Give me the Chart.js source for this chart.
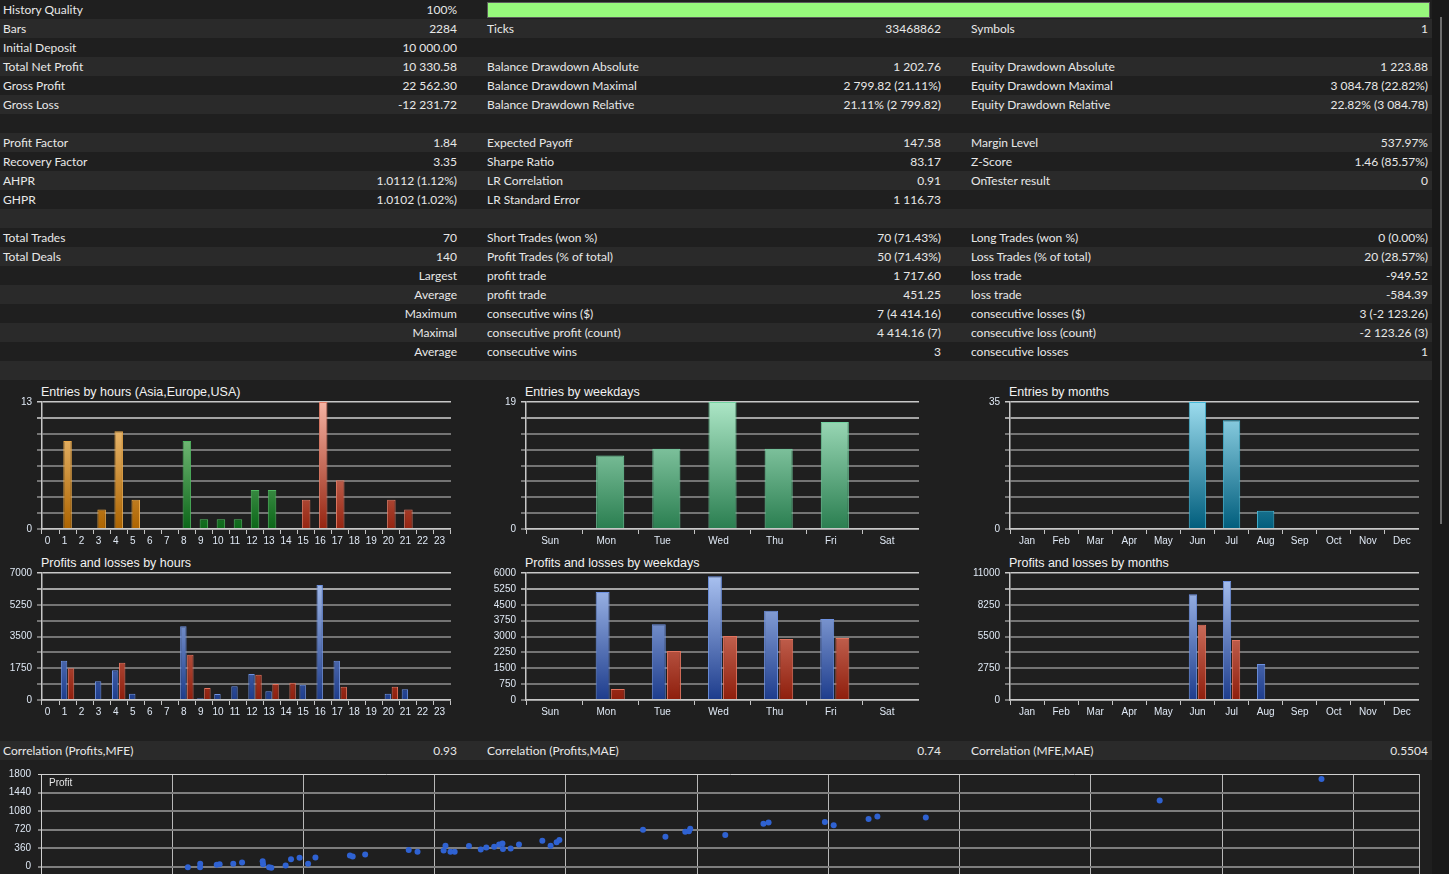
<!DOCTYPE html>
<html><head><meta charset="utf-8">
<script src="https://cdn.jsdelivr.net/npm/chart.js@4.4.1/dist/chart.umd.min.js"></script>
<style>
html,body{margin:0;padding:0;background:#1f1f1f;width:1449px;height:874px;overflow:hidden;}
#page{position:relative;width:1449px;height:874px;font-family:Lato,"Open Sans",sans-serif;}
.strip{position:absolute;left:1432px;top:0;width:17px;height:874px;background:#191919;}
.scroll{position:absolute;left:1440px;top:17px;width:2px;height:507px;background:#6c6c6c;}
.row{position:absolute;left:0;width:1432px;height:19px;color:#e8e8e8;font-size:12px;line-height:20px;}
.odd{background:#2a2a2a}.even{background:#1f1f1f}
.c{position:absolute;top:0;white-space:nowrap}
.l1{left:3px}.v1{left:257px;width:200px;text-align:right}
.l2{left:487px}.v2{left:741px;width:200px;text-align:right}
.l3{left:971px}.v3{left:1128px;width:300px;text-align:right}
.hq{position:absolute;left:487px;top:2px;width:941px;height:14px;background:#97f97c;border:1px solid #5c5c5c;}
.title{position:absolute;color:#f2f2f2;font-family:"Liberation Sans",Arial,sans-serif;font-size:12.5px;line-height:15px;white-space:nowrap}
.box{position:absolute}
.plabel{position:absolute;left:49px;top:777px;color:#e6e6e6;font-family:"Liberation Sans",Arial,sans-serif;font-size:10px;}
</style></head>
<body><div id="page">
<div class="strip"></div><div class="scroll"></div>
<div id="table"></div>
<div class="row odd" style="top:741px"><span class="c l1">Correlation (Profits,MFE)</span><span class="c v1">0.93</span><span class="c l2">Correlation (Profits,MAE)</span><span class="c v2">0.74</span><span class="c l3">Correlation (MFE,MAE)</span><span class="c v3">0.5504</span></div>

<div class="title" style="left:41px;top:385px">Entries by hours (Asia,Europe,USA)</div>
<div class="title" style="left:525px;top:385px">Entries by weekdays</div>
<div class="title" style="left:1009px;top:385px">Entries by months</div>
<div class="title" style="left:41px;top:556px">Profits and losses by hours</div>
<div class="title" style="left:525px;top:556px">Profits and losses by weekdays</div>
<div class="title" style="left:1009px;top:556px">Profits and losses by months</div>

<canvas id="cHours" class="box" style="left:0px;top:388px" width="451" height="159"></canvas>
<canvas id="cWeek" class="box" style="left:484px;top:388px" width="435" height="159"></canvas>
<canvas id="cMonth" class="box" style="left:968px;top:388px" width="451" height="159"></canvas>
<canvas id="pHours" class="box" style="left:0px;top:559px" width="451" height="159"></canvas>
<canvas id="pWeek" class="box" style="left:484px;top:559px" width="435" height="159"></canvas>
<canvas id="pMonth" class="box" style="left:968px;top:559px" width="451" height="159"></canvas>
<canvas id="scat" class="box" style="left:0px;top:760px" width="1423" height="182"></canvas>
<div class="plabel">Profit</div>
</div>
<script>
// ---- report table text ----
const tableRows = [
  ["History Quality","100%","","","",""],
  ["Bars","2284","Ticks","33468862","Symbols","1"],
  ["Initial Deposit","10 000.00","","","",""],
  ["Total Net Profit","10 330.58","Balance Drawdown Absolute","1 202.76","Equity Drawdown Absolute","1 223.88"],
  ["Gross Profit","22 562.30","Balance Drawdown Maximal","2 799.82 (21.11%)","Equity Drawdown Maximal","3 084.78 (22.82%)"],
  ["Gross Loss","-12 231.72","Balance Drawdown Relative","21.11% (2 799.82)","Equity Drawdown Relative","22.82% (3 084.78)"],
  ["","","","","",""],
  ["Profit Factor","1.84","Expected Payoff","147.58","Margin Level","537.97%"],
  ["Recovery Factor","3.35","Sharpe Ratio","83.17","Z-Score","1.46 (85.57%)"],
  ["AHPR","1.0112 (1.12%)","LR Correlation","0.91","OnTester result","0"],
  ["GHPR","1.0102 (1.02%)","LR Standard Error","1 116.73","",""],
  ["","","","","",""],
  ["Total Trades","70","Short Trades (won %)","70 (71.43%)","Long Trades (won %)","0 (0.00%)"],
  ["Total Deals","140","Profit Trades (% of total)","50 (71.43%)","Loss Trades (% of total)","20 (28.57%)"],
  ["","Largest","profit trade","1 717.60","loss trade","-949.52"],
  ["","Average","profit trade","451.25","loss trade","-584.39"],
  ["","Maximum","consecutive wins ($)","7 (4 414.16)","consecutive losses ($)","3 (-2 123.26)"],
  ["","Maximal","consecutive profit (count)","4 414.16 (7)","consecutive loss (count)","-2 123.26 (3)"],
  ["","Average","consecutive wins","3","consecutive losses","1"],
  ["","","","","",""]
];

// ---- chart data ----
const hourLabels = ["0","1","2","3","4","5","6","7","8","9","10","11","12","13","14","15","16","17","18","19","20","21","22","23"];
const hourEntries = [0,9,0,2,10,3,0,0,9,1,1,1,4,4,0,3,13,5,0,0,3,2,0,0];
const hourProfits = [0,2168,0,1029,1635,349,0,0,4060,92,331,753,1433,478,0,845,6338,2168,0,0,349,588,0,0];
const hourLosses  = [0,1745,0,0,2058,0,55,0,2499,661,0,0,1396,882,955,0,0,735,0,0,735,0,0,0];

const weekdayLabels = ["Sun","Mon","Tue","Wed","Thu","Fri","Sat"];
const weekdayEntries = [0,11,12,19,12,16,0];
const weekdayProfits = [0,5102,3575,5843,4220,3827,0];
const weekdayLosses  = [0,520,2315,3024,2882,2929,0];

const monthLabels = ["Jan","Feb","Mar","Apr","May","Jun","Jul","Aug","Sep","Oct","Nov","Dec"];
const monthEntries = [0,0,0,0,0,35,30,5,0,0,0,0];
const monthProfits = [0,0,0,0,0,9152,10307,3118,0,0,0,0];
const monthLosses  = [0,0,0,0,0,6525,5197,0,0,0,0,0];

const hourEntriesMax = 13, hourPLMax = 7000;
const weekdayEntriesMax = 19, weekdayPLMax = 6000;
const monthEntriesMax = 35, monthPLMax = 11000;

const scatterMFE = [111.9,121.3,121.2,133.9,136.1,146.5,153.2,168.9,169.2,173.8,175.5,186.4,190.5,197.0,203.5,209.1,235.4,237.5,247.0,280.2,286.9,306.8,308.2,312.0,315.2,326.1,335.1,339.3,345.3,349.1,351.6,352.0,357.9,364.2,382.0,388.3,392.9,395.0,458.7,475.8,490.9,493.7,494.7,521.4,550.5,554.4,597.3,604.0,630.6,637.3,674.2,852.4,975.7];
const scatterProfit = [-13,53,-13,33,45,53,78,104,45,-13,-26,20,143,170,53,176,215,196,235,319,287,313,405,287,287,397,333,372,385,430,450,339,352,430,502,405,470,515,717,580,678,684,736,612,834,854,867,802,925,971,952,1284,1702];
const scatterYTicks = [-1080,-720,-360,0,360,720,1080,1440,1800];
const scatterXTicks = [0,100,200,300,400,500,600,700,800,900,1000,1050];

// ---- build table ----
(function(){
  const t = document.getElementById('table');
  tableRows.forEach((r,i)=>{
    const d = document.createElement('div');
    d.className = 'row ' + (i%2 ? 'odd' : 'even');
    d.style.top = (i*19) + 'px';
    const cls = ['l1','v1','l2','v2','l3','v3'];
    r.forEach((txt,k)=>{ if(txt!==''){ const s=document.createElement('span'); s.className='c '+cls[k]; s.textContent=txt; d.appendChild(s);} });
    if(i===0){ const b=document.createElement('div'); b.className='hq'; d.appendChild(b); }
    t.appendChild(d);
  });
})();

Chart.defaults.animation = false;
Chart.defaults.font.family = '"Liberation Sans", Arial, sans-serif';

function grad(bottom, top){
  return function(ctx){
    const ch = ctx.chart, a = ch.chartArea;
    if(!a) return bottom;
    const g = ch.ctx.createLinearGradient(0, a.bottom, 0, a.top);
    g.addColorStop(0, bottom); g.addColorStop(1, top);
    return g;
  };
}
const COL = {
  orange: {b:'#ad6400', t:'#f8cc88', line:'#eaa848'},
  green:  {b:'#0b6618', t:'#9ad89a', line:'#50b860'},
  red:    {b:'#952410', t:'#f6b4a4', line:'#e07a64'},
  blue:   {b:'#1d3c8c', t:'#acc4f2', line:'#6e92e2'},
  loss:   {b:'#8e1e0c', t:'#f2a08e', line:'#e2735e'},
  wgreen: {b:'#2a7e50', t:'#ace6c6', line:'#72d4a2'},
  teal:   {b:'#005d7c', t:'#9cdcee', line:'#44bada'}
};

function barOptions(max, labelMode, labelShift){
  return {
    responsive:false, maintainAspectRatio:false,
    layout:{padding:{top:14,left:0,right:0,bottom:0}},
    plugins:{legend:{display:false}, tooltip:{enabled:false}},
    scales:{
      x:{
        type:'category', offset:true,
        grid:{offset:true, drawOnChartArea:false, drawTicks:true, tickLength:5, color:'#c4c4c4', lineWidth:1},
        border:{display:true, color:'#c8c8c8', width:1.5},
        ticks:{color:'#dfe8f4', font:{size:10}, padding:1, autoSkip:false, maxRotation:0, labelOffset:labelShift},
        afterFit(s){ s.height = 18; }
      },
      y:{
        min:0, max:max,
        afterBuildTicks(s){ const a=[]; for(let i=0;i<=8;i++) a.push({value:max*i/8}); s.ticks=a; },
        grid:{drawTicks:true, tickLength:5,
          color:(c)=> c.index===8 ? '#c8c8c8' : (c.index===7 ? '#a4a4a4' : '#747474'),
          lineWidth:(c)=> c.index===8 ? 1.5 : 2},
        border:{display:true, color:'#c8c8c8', width:1.5},
        ticks:{color:'#dfe8f4', font:{size:10}, padding:5,
          callback:function(v,i){
            if(labelMode==='ends') return (i===0||i===8)? String(v): '';
            if(labelMode==='all') return String(v);
            return (i%2===0)? String(v): ''; }},
        afterFit(s){ s.width = 42; }
      }
    }
  };
}

// entries by hours (session colours)
function sessionOf(i){ return i<8 ? COL.orange : (i<15 ? COL.green : COL.red); }
const sessBg = hourLabels.map((_,i)=>grad(sessionOf(i).b, sessionOf(i).t));
new Chart(document.getElementById('cHours'), {
  type:'bar',
  data:{labels:hourLabels, datasets:[{data:hourEntries,
    backgroundColor:(c)=> sessBg[c.dataIndex](c),
    borderColor:(c)=> sessionOf(c.dataIndex).line, borderWidth:1,
    categoryPercentage:1, barPercentage:0.5}]},
  options:barOptions(hourEntriesMax,'ends',-3)
});

new Chart(document.getElementById('cWeek'), {
  type:'bar',
  data:{labels:weekdayLabels, datasets:[{data:weekdayEntries,
    backgroundColor:grad(COL.wgreen.b, COL.wgreen.t), borderColor:COL.wgreen.line, borderWidth:1,
    categoryPercentage:1, barPercentage:0.5}]},
  options:barOptions(weekdayEntriesMax,'ends',-4)
});

new Chart(document.getElementById('cMonth'), {
  type:'bar',
  data:{labels:monthLabels, datasets:[{data:monthEntries,
    backgroundColor:grad(COL.teal.b, COL.teal.t), borderColor:COL.teal.line, borderWidth:1,
    categoryPercentage:1, barPercentage:0.51}]},
  options:barOptions(monthEntriesMax,'ends',0)
});

function plChart(id, labels, profits, losses, max, catPct, mode, shift){
  new Chart(document.getElementById(id), {
    type:'bar',
    data:{labels:labels, datasets:[
      {data:profits, backgroundColor:grad(COL.blue.b, COL.blue.t), borderColor:COL.blue.line, borderWidth:1, categoryPercentage:catPct, barPercentage:0.92},
      {data:losses, backgroundColor:grad(COL.loss.b, COL.loss.t), borderColor:COL.loss.line, borderWidth:1, categoryPercentage:catPct, barPercentage:0.92}
    ]},
    options:barOptions(max, mode, shift)
  });
}
plChart('pHours', hourLabels, hourProfits, hourLosses, hourPLMax, 0.82, 'alt', -3);
plChart('pWeek', weekdayLabels, weekdayProfits, weekdayLosses, weekdayPLMax, 0.54, 'all', -4);
plChart('pMonth', monthLabels, monthProfits, monthLosses, monthPLMax, 0.53, 'alt', 0);

// scatter Profit vs MFE
new Chart(document.getElementById('scat'), {
  type:'scatter',
  data:{datasets:[{data:scatterMFE.map((x,i)=>({x:x, y:scatterProfit[i]})),
    backgroundColor:'#2f62d2', borderColor:'#2f62d2', pointRadius:3, pointBorderWidth:0}]},
  options:{
    responsive:false, maintainAspectRatio:false,
    layout:{padding:{top:14,left:0,right:1,bottom:0}},
    plugins:{legend:{display:false}, tooltip:{enabled:false}},
    scales:{
      x:{type:'linear', min:0, max:1050,
        afterBuildTicks(s){ s.ticks = scatterXTicks.map(v=>({value:v})); },
        grid:{color:'#b8b8b8', lineWidth:1, drawTicks:false},
        border:{display:true, color:'#d0d0d0'},
        ticks:{display:false},
        afterFit(s){ s.height = 20; }
      },
      y:{type:'linear', min:-1080, max:1800,
        afterBuildTicks(s){ s.ticks = scatterYTicks.map(v=>({value:v})); },
        grid:{tickLength:3, color:(c)=> c.tick && c.tick.value===1800 ? '#d0d0d0' : '#7e7e7e', lineWidth:(c)=> c.tick && c.tick.value===1800 ? 1 : 2},
        border:{display:true, color:'#d0d0d0'},
        ticks:{color:'#dfe8f4', font:{size:10}, padding:7, callback:(v)=>String(v)},
        afterFit(s){ s.width = 41; }
      }
    }
  }
});
</script>
</body></html>
